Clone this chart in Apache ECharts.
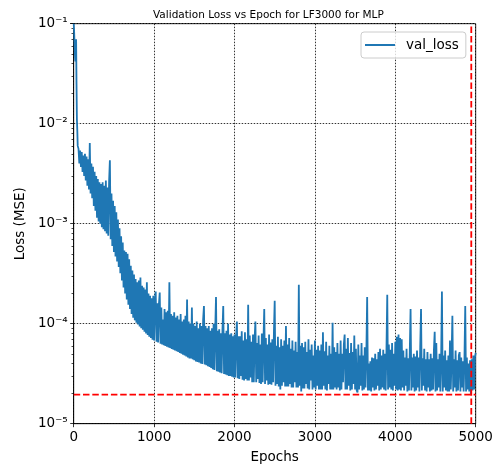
<!DOCTYPE html>
<html>
<head>
<meta charset="utf-8">
<script src="https://cdn.jsdelivr.net/npm/echarts@6/dist/echarts.min.js"></script>
<style>
  html, body { margin: 0; padding: 0; background: #fff; }
  #chart { width: 494px; height: 473px; }
</style>
</head>
<body>
<div id="chart"></div>
<script>
// early epochs, where the loss falls fast
const earlyEpochs = [0, 5, 10, 15, 20, 25, 30, 35, 40, 45, 50];
const earlyLoss = [0.1, 0.085, 0.066, 0.05, 0.042, 0.06, 0.07, 0.025, 0.011, 0.0085, 0.006];

// noisy band, read every 10 epochs from epoch 60 to 5000 (one row = 200 epochs)
const bandStart = 60;
const bandStep = 10;
const bandLoss = [
  5.6e-3, 4.0e-3, 5.4e-3, 3.7e-3, 5.2e-3, 3.3e-3, 4.8e-3, 3.0e-3, 5.0e-3, 2.7e-3, 4.7e-3, 2.4e-3, 4.4e-3, 2.2e-3, 6.4e-3, 2.0e-3, 4.0e-3, 1.8e-3, 3.7e-3, 1.5e-3,
  3.3e-3, 1.35e-3, 3.0e-3, 1.15e-3, 2.8e-3, 1.05e-3, 2.6e-3, 1.0e-3, 2.5e-3, 9.2e-4, 2.6e-3, 8.8e-4, 2.4e-3, 8.4e-4, 2.7e-3, 8.0e-4, 2.3e-3, 7.6e-4, 2.6e-3, 4.3e-3,
  7.0e-4, 2.0e-3, 6.0e-4, 1.7e-3, 5.2e-4, 1.5e-3, 4.7e-4, 1.3e-3, 4.2e-4, 1.1e-3, 3.7e-4, 9.0e-4, 3.2e-4, 7.5e-4, 2.7e-4, 6.5e-4, 2.3e-4, 5.4e-4, 2.0e-4, 5.2e-4,
  1.75e-4, 5.0e-4, 1.55e-4, 4.4e-4, 1.4e-4, 3.8e-4, 1.25e-4, 3.4e-4, 1.15e-4, 3.1e-4, 1.08e-4, 2.8e-4, 1.02e-4, 2.6e-4, 9.8e-5, 2.7e-4, 9.4e-5, 2.9e-4, 9.0e-5, 2.4e-4,
  8.7e-5, 2.3e-4, 8.3e-5, 2.2e-4, 8.0e-5, 2.6e-4, 7.7e-5, 2.0e-4, 7.4e-5, 1.9e-4, 7.2e-5, 1.8e-4, 6.9e-5, 1.9e-4, 6.8e-5, 1.7e-4, 2.1e-4, 6.6e-5, 1.6e-4, 6.5e-5,
  1.55e-4, 2.05e-4, 6.3e-5, 1.45e-4, 6.2e-5, 1.1e-4, 6.1e-5, 1.4e-4, 6.0e-5, 1.3e-4, 5.9e-5, 1.35e-4, 5.8e-5, 2.6e-4, 5.7e-5, 1.25e-4, 5.6e-5, 1.2e-4, 5.5e-5, 1.3e-4,
  5.4e-5, 1.15e-4, 5.3e-5, 1.2e-4, 5.2e-5, 1.1e-4, 5.1e-5, 1.25e-4, 5.0e-5, 1.05e-4, 4.9e-5, 1.1e-4, 4.8e-5, 1.2e-4, 4.7e-5, 1.75e-4, 4.6e-5, 1.05e-4, 4.5e-5, 1.0e-4,
  4.5e-5, 1.45e-4, 4.4e-5, 1.0e-4, 4.3e-5, 9.5e-5, 4.2e-5, 1.05e-4, 4.15e-5, 9.0e-5, 4.1e-5, 1.0e-4, 4.0e-5, 9.5e-5, 3.95e-5, 1.1e-4, 1.5e-4, 3.9e-5, 9.5e-5, 3.85e-5,
  9.0e-5, 3.75e-5, 9.5e-5, 3.7e-5, 8.5e-5, 3.6e-5, 9.0e-5, 3.5e-5, 1.0e-4, 3.45e-5, 8.5e-5, 1.85e-4, 3.35e-5, 8.5e-5, 3.3e-5, 8.8e-5, 3.25e-5, 8.0e-5, 3.2e-5, 8.5e-5,
  1.5e-4, 3.15e-5, 8.0e-5, 3.1e-5, 8.5e-5, 3.05e-5, 1.0e-4, 3.0e-5, 7.8e-5, 3.0e-5, 8.0e-5, 2.95e-5, 7.5e-5, 2.9e-5, 7.8e-5, 2.9e-5, 7.6e-5, 1.05e-4, 2.85e-5, 7.5e-5,
  2.8e-5, 7.5e-5, 3.0e-5, 8.4e-5, 2.75e-5, 6.8e-5, 2.7e-5, 8.2e-5, 2.8e-5, 7.0e-5, 2.7e-5, 1.55e-4, 2.7e-5, 7.6e-5, 2.9e-5, 6.6e-5, 2.6e-5, 7.8e-5, 2.6e-5, 7.0e-5,
  1.05e-4, 2.6e-5, 6.4e-5, 2.8e-5, 7.6e-5, 2.55e-5, 6.2e-5, 2.5e-5, 8.0e-5, 2.6e-5, 6.6e-5, 1.4e-4, 2.5e-5, 7.2e-5, 2.7e-5, 6.2e-5, 2.45e-5, 7.8e-5, 2.5e-5, 6.5e-5,
  2.45e-5, 7.0e-5, 2.6e-5, 8.0e-5, 1.7e-4, 2.4e-5, 6.0e-5, 2.5e-5, 7.4e-5, 2.35e-5, 5.8e-5, 2.2e-5, 7.0e-5, 2.4e-5, 6.0e-5, 2.6e-5, 6.8e-5, 2.35e-5, 9.5e-5, 2.35e-5,
  6.2e-5, 2.35e-5, 7.2e-5, 2.5e-5, 5.6e-5, 2.3e-5, 6.8e-5, 2.3e-5, 5.4e-5, 2.6e-5, 6.6e-5, 2.3e-5, 5.2e-5, 2.3e-5, 2.45e-4, 2.4e-5, 6.0e-5, 2.1e-5, 6.4e-5, 2.25e-5,
  5.8e-5, 2.25e-5, 6.6e-5, 2.5e-5, 5.2e-5, 2.25e-5, 7.0e-5, 2.2e-5, 5.5e-5, 2.7e-5, 6.2e-5, 2.2e-5, 4.8e-5, 2.3e-5, 6.8e-5, 2.2e-5, 5.5e-5, 2.4e-5, 6.0e-5, 2.2e-5,
  5.4e-5, 2.2e-5, 6.2e-5, 2.2e-5, 8.2e-5, 2.4e-5, 5.3e-5, 2.2e-5, 6.6e-5, 2.15e-5, 4.8e-5, 2.5e-5, 6.0e-5, 2.2e-5, 5.0e-5, 2.2e-5, 1.02e-4, 2.2e-5, 5.8e-5, 2.3e-5,
  5.2e-5, 2.2e-5, 6.4e-5, 2.3e-5, 5.0e-5, 2.15e-5, 6.8e-5, 2.2e-5, 5.0e-5, 2.6e-5, 6.2e-5, 7.8e-5, 2.2e-5, 5.6e-5, 2.2e-5, 7.2e-5, 2.4e-5, 5.1e-5, 2.15e-5, 6.4e-5,
  2.2e-5, 5.2e-5, 2.5e-5, 7.6e-5, 2.2e-5, 5.6e-5, 2.15e-5, 2.05e-5, 6.2e-5, 2.2e-5, 4.8e-5, 2.4e-5, 6.4e-5, 2.15e-5, 4.8e-5, 2.2e-5, 5.8e-5, 2.3e-5, 5.0e-5, 1.85e-4,
  2.15e-5, 4.0e-5, 2.15e-5, 4.2e-5, 2.1e-5, 4.6e-5, 2.3e-5, 4.5e-5, 2.15e-5, 5.0e-5, 2.2e-5, 4.4e-5, 2.4e-5, 5.2e-5, 2.15e-5, 5.6e-5, 2.2e-5, 4.8e-5, 2.3e-5, 5.5e-5,
  2.2e-5, 5.0e-5, 2.15e-5, 5.4e-5, 1.95e-4, 2.2e-5, 6.2e-5, 2.3e-5, 5.5e-5, 2.2e-5, 6.4e-5, 2.15e-5, 5.0e-5, 2.4e-5, 6.6e-5, 2.2e-5, 7.4e-5, 2.15e-5, 7.8e-5, 2.2e-5,
  7.2e-5, 2.15e-5, 7.0e-5, 2.3e-5, 5.4e-5, 2.15e-5, 4.6e-5, 2.4e-5, 5.6e-5, 2.1e-5, 4.5e-5, 2.15e-5, 5.2e-5, 1.4e-4, 2.15e-5, 4.6e-5, 2.3e-5, 5.0e-5, 2.1e-5, 4.7e-5,
  2.15e-5, 5.4e-5, 2.3e-5, 4.6e-5, 2.1e-5, 5.8e-5, 1.4e-4, 2.15e-5, 4.5e-5, 2.4e-5, 5.6e-5, 2.15e-5, 4.4e-5, 2.1e-5, 5.2e-5, 2.3e-5, 4.4e-5, 2.1e-5, 5.0e-5, 2.15e-5,
  4.5e-5, 2.2e-5, 5.4e-5, 8.3e-5, 2.1e-5, 6.4e-5, 2.15e-5, 4.4e-5, 2.3e-5, 5.0e-5, 2.1e-5, 4.4e-5, 2.1e-4, 2.1e-5, 4.8e-5, 2.3e-5, 5.4e-5, 2.15e-5, 4.3e-5, 2.1e-5,
  4.8e-5, 2.1e-5, 6.8e-5, 2.2e-5, 4.6e-5, 1.2e-4, 2.1e-5, 4.4e-5, 2.3e-5, 5.4e-5, 2.1e-5, 4.3e-5, 2.15e-5, 4.8e-5, 5.2e-5, 2.1e-5, 4.6e-5, 2.3e-5, 4.2e-5, 2.1e-5,
  4.4e-5, 1.5e-4, 2.1e-5, 4.6e-5, 2.2e-5, 4.0e-5, 2.1e-5, 4.3e-5, 1.95e-5, 4.4e-5, 2.15e-5, 4.8e-5, 2.2e-5, 4.6e-5, 5.1e-5
];

// best epoch markers (red dashed lines)
const bestEpoch = 4945;
const bestLoss = 1.95e-5;

const xRange = [0, 5000];
const yRange = [1e-5, 1e-1];

let points = [];
for (let i = 0; i < earlyEpochs.length; i++) points.push([earlyEpochs[i], earlyLoss[i]]);
for (let i = 0; i < bandLoss.length; i++) points.push([bandStart + i * bandStep, bandLoss[i]]);

const sup = { '-': '\u207B', '0': '\u2070', '1': '\u00B9', '2': '\u00B2', '3': '\u00B3', '4': '\u2074', '5': '\u2075', '6': '\u2076', '7': '\u2077', '8': '\u2078', '9': '\u2079' };
function powLabel(v) {
  const e = Math.round(Math.log10(v));
  return '10' + String(e).split('').map(c => sup[c]).join('');
}

const font = 'DejaVu Sans';
const redDash = { color: '#ff0000', width: 1.8, type: [6.5, 2.8] };

const chart = echarts.init(document.getElementById('chart'));
chart.setOption({
  animation: false,
  backgroundColor: '#fff',
  title: {
    text: 'Validation Loss vs Epoch for LF3000 for MLP',
    left: 148, top: 5,
    textStyle: { fontFamily: font, fontSize: 10.5, fontWeight: 'normal', color: '#000' }
  },
  legend: {
    left: 361, top: 32,
    padding: [6, 7, 6, 4],
    borderColor: '#ccc', borderWidth: 1, borderRadius: 3,
    backgroundColor: 'rgba(255,255,255,0.8)',
    icon: 'rect', itemWidth: 30, itemHeight: 2,
    textStyle: { fontFamily: font, fontSize: 13.5, color: '#000', padding: [0, 0, 0, 6] },
    data: ['val_loss']
  },
  grid: {
    left: 73.7, right: 18.3, top: 23.7, bottom: 49.3,
    outerBoundsMode: 'none',
    show: true, borderColor: '#000', borderWidth: 0.8
  },
  xAxis: {
    type: 'value', min: xRange[0], max: xRange[1], interval: 1000,
    name: 'Epochs', nameLocation: 'middle', nameGap: 27,
    nameTextStyle: { fontFamily: font, fontSize: 13.5, color: '#000' },
    axisLine: { show: true, lineStyle: { color: '#000', width: 0.8 } },
    axisTick: { show: true, inside: false, length: 3.5, lineStyle: { color: '#000', width: 0.8 } },
    axisLabel: { fontFamily: font, fontSize: 13.5, color: '#000', margin: 7, formatter: v => String(v) },
    splitLine: { show: true, lineStyle: { color: '#000', width: 0.8, type: [1.5, 1.5] } }
  },
  yAxis: {
    type: 'log', logBase: 10, min: yRange[0], max: yRange[1],
    name: 'Loss (MSE)', nameLocation: 'middle', nameGap: 40,
    nameTextStyle: { fontFamily: font, fontSize: 13.5, color: '#000' },
    axisLine: { show: true, lineStyle: { color: '#000', width: 0.8 } },
    axisTick: { show: true, inside: false, length: 3.5, lineStyle: { color: '#000', width: 0.8 } },
    minorTick: { show: true, splitNumber: 9, length: 2.2, lineStyle: { color: '#000', width: 0.7 } },
    axisLabel: { fontFamily: font, fontSize: 13.5, color: '#000', margin: 6, formatter: powLabel },
    splitLine: { show: true, lineStyle: { color: '#000', width: 0.8, type: [1.5, 1.5] } }
  },
  series: [{
    name: 'val_loss',
    type: 'line',
    data: points,
    showSymbol: false,
    symbol: 'none',
    sampling: null,
    lineStyle: { color: '#1f77b4', width: 1.8 },
    itemStyle: { color: '#1f77b4' }
  }, {
    name: 'best_epoch',
    type: 'line',
    data: [[bestEpoch, yRange[0]], [bestEpoch, yRange[1]]],
    showSymbol: false, symbol: 'none', silent: true, z: 5,
    lineStyle: redDash
  }, {
    name: 'best_loss',
    type: 'line',
    data: [[xRange[0], bestLoss], [xRange[1], bestLoss]],
    showSymbol: false, symbol: 'none', silent: true, z: 5,
    lineStyle: redDash
  }]
});
</script>
</body>
</html>
